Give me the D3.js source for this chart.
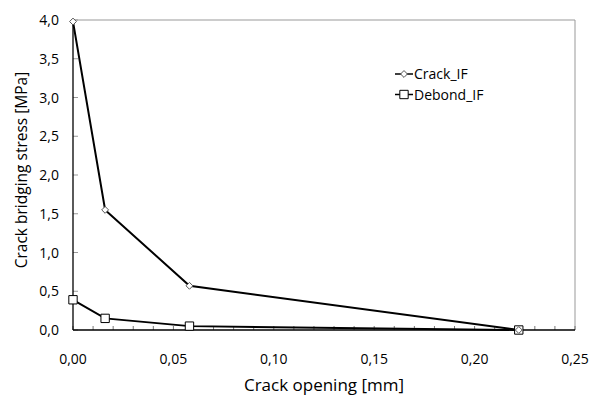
<!DOCTYPE html>
<html>
<head>
<meta charset="utf-8">
<script src="https://cdn.jsdelivr.net/npm/d3@7"></script>
<style>
  body { margin: 0; background: #fff; }
  svg { font-family: "Open Sans", "Noto Sans", sans-serif; }
</style>
</head>
<body>
<svg id="chart" width="591" height="396"></svg>
<script>
// crack opening [mm]
const opening = [0, 0.016, 0.058, 0.222];
// series values [MPa]
const crackIF = [3.98, 1.55, 0.57, 0.0];
const debondIF = [0.39, 0.15, 0.05, 0.0];
const seriesNames = ["Crack_IF", "Debond_IF"];
const xTicks = [0, 0.05, 0.10, 0.15, 0.20, 0.25];
const yTicks = [0, 0.5, 1.0, 1.5, 2.0, 2.5, 3.0, 3.5, 4.0];

const margin = { top: 20, right: 16, bottom: 66, left: 73 };
const width = 591 - margin.left - margin.right;
const height = 396 - margin.top - margin.bottom;

const svg = d3.select("#chart")
  .append("g")
  .attr("transform", `translate(${margin.left}, ${margin.top})`);

const x = d3.scaleLinear().domain([0, 0.25]).range([0, width]);
const y = d3.scaleLinear().domain([0, 4]).range([height, 0]);

const fmt = d => d3.format(".2f")(d).replace(".", ",");
const fmtY = d => d3.format(".1f")(d).replace(".", ",");

// frame (top and right in grey)
svg.append("line").attr("x1", 0).attr("x2", width).attr("y1", 0).attr("y2", 0)
  .attr("stroke", "#999").attr("stroke-width", 1);
svg.append("line").attr("x1", width).attr("x2", width).attr("y1", 0).attr("y2", height)
  .attr("stroke", "#999").attr("stroke-width", 1);

// x minor ticks every 0.01 (inward)
svg.append("g")
  .selectAll("line")
  .data(d3.range(0, 26).map(i => i / 100))
  .enter()
  .append("line")
  .attr("x1", d => x(d)).attr("x2", d => x(d))
  .attr("y1", height).attr("y2", height - 4)
  .attr("stroke", "#777");

// y ticks (inward)
svg.append("g")
  .selectAll("line")
  .data(yTicks)
  .enter()
  .append("line")
  .attr("x1", 0).attr("x2", 5)
  .attr("y1", d => y(d)).attr("y2", d => y(d))
  .attr("stroke", "#999");

// axes lines
svg.append("line").attr("x1", 0).attr("x2", width).attr("y1", height).attr("y2", height)
  .attr("stroke", "#000").attr("stroke-width", 1.3);
svg.append("line").attr("x1", 0).attr("x2", 0).attr("y1", 0).attr("y2", height)
  .attr("stroke", "#000").attr("stroke-width", 1.3);

// tick labels
svg.append("g")
  .selectAll("text")
  .data(xTicks)
  .enter()
  .append("text")
  .attr("x", d => x(d))
  .attr("y", height + 34)
  .attr("text-anchor", "middle")
  .style("font-size", "14px")
  .text(fmt);

svg.append("g")
  .selectAll("text")
  .data(yTicks)
  .enter()
  .append("text")
  .attr("x", -14)
  .attr("y", d => y(d) + 5)
  .attr("text-anchor", "end")
  .style("font-size", "14px")
  .text(fmtY);

// axis titles
svg.append("text")
  .attr("x", width / 2)
  .attr("y", height + 61)
  .attr("text-anchor", "middle")
  .style("font-size", "17px")
  .text("Crack opening [mm]");

svg.append("text")
  .attr("transform", "rotate(-90)")
  .attr("x", -height / 2 + 5)
  .attr("y", -46)
  .attr("text-anchor", "middle")
  .style("font-size", "15.5px")
  .text("Crack bridging stress [MPa]");

const line = d3.line()
  .x(d => x(d[0]))
  .y(d => y(d[1]));

const crackData = opening.map((o, i) => [o, crackIF[i]]);
const debondData = opening.map((o, i) => [o, debondIF[i]]);

svg.append("path").datum(crackData)
  .attr("fill", "none").attr("stroke", "#000").attr("stroke-width", 2)
  .attr("d", line);
svg.append("path").datum(debondData)
  .attr("fill", "none").attr("stroke", "#000").attr("stroke-width", 2)
  .attr("d", line);

const diamond = d3.symbol().type(d3.symbolDiamond2).size(30);
const square = d3.symbol().type(d3.symbolSquare).size(70);

svg.append("g").selectAll("path")
  .data(debondData)
  .enter()
  .append("path")
  .attr("transform", d => `translate(${x(d[0])}, ${y(d[1])})`)
  .attr("d", square)
  .attr("fill", "#fff").attr("stroke", "#000").attr("stroke-width", 1);

svg.append("g").selectAll("path")
  .data(crackData)
  .enter()
  .append("path")
  .attr("transform", d => `translate(${x(d[0])}, ${y(d[1])})`)
  .attr("d", diamond)
  .attr("fill", "#fff").attr("stroke", "#555").attr("stroke-width", 1);

// legend
const legend = svg.append("g").attr("transform", "translate(322, 54)");
const symbols = [diamond, square];
seriesNames.forEach((name, i) => {
  const g = legend.append("g").attr("transform", `translate(0, ${i * 20.5})`);
  g.append("line").attr("x1", 0).attr("x2", 18).attr("y1", 0).attr("y2", 0)
    .attr("stroke", "#000").attr("stroke-width", 1.5);
  g.append("path").attr("transform", "translate(9, 0)")
    .attr("d", symbols[i])
    .attr("fill", "#fff").attr("stroke", i === 0 ? "#555" : "#000");
  g.append("text").attr("x", 19).attr("y", 5)
    .style("font-size", "14px")
    .text(name);
});
</script>
</body>
</html>
